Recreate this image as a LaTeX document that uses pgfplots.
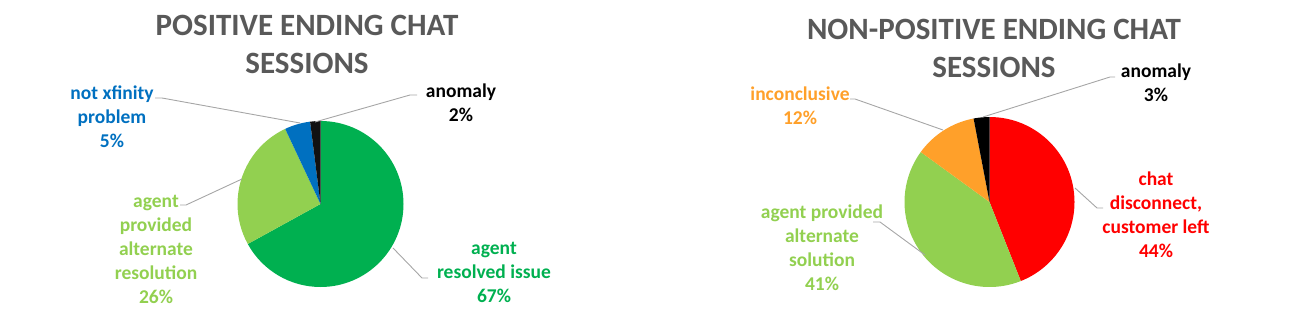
\documentclass[border=0pt]{standalone}
\usepackage{fontspec}
\setmainfont{Carlito}
\usepackage{pgfplots}
\usepackage{pgfplotstable}
\pgfplotsset{compat=1.18}

\definecolor{ttlgray}{HTML}{595959}
\definecolor{leader}{HTML}{A6A6A6}
\definecolor{posc0}{HTML}{00B050}
\definecolor{posc1}{HTML}{92D050}
\definecolor{posc2}{HTML}{0070C0}
\definecolor{posc3}{HTML}{111111}
\definecolor{negc0}{HTML}{FF0000}
\definecolor{negc1}{HTML}{92D050}
\definecolor{negc2}{HTML}{FFA02A}
\definecolor{negc3}{HTML}{000000}

\newcommand\ttl{\fontsize{31}{38}\selectfont\bfseries}
\newcommand\lab{\fontsize{19.5}{24}\selectfont\bfseries}

% Positive ending chat sessions (percent)
\pgfplotstableread{
name value
resolved 67
alternate 26
notxfinity 5
anomaly 2
}\posdata
% Non-positive ending chat sessions (percent)
\pgfplotstableread{
name value
disconnect 44
alternate 41
inconclusive 12
anomaly 3
}\negdata

% wedge angles (clockwise from 12 o'clock)
\def\cumsum{0}
\pgfplotsforeachungrouped \i in {0,...,3}{%
  \pgfplotstablegetelem{\i}{value}\of\posdata
  \pgfmathsetmacro\sa{90-3.6*\cumsum}%
  \pgfmathsetmacro\cumsum{\cumsum+\pgfplotsretval}%
  \pgfmathsetmacro\ea{90-3.6*\cumsum}%
  \expandafter\xdef\csname posS\i\endcsname{\sa}%
  \expandafter\xdef\csname posE\i\endcsname{\ea}%
}
\def\cumsum{0}
\pgfplotsforeachungrouped \i in {0,...,3}{%
  \pgfplotstablegetelem{\i}{value}\of\negdata
  \pgfmathsetmacro\sa{90-3.6*\cumsum}%
  \pgfmathsetmacro\cumsum{\cumsum+\pgfplotsretval}%
  \pgfmathsetmacro\ea{90-3.6*\cumsum}%
  \expandafter\xdef\csname negS\i\endcsname{\sa}%
  \expandafter\xdef\csname negE\i\endcsname{\ea}%
}

\begin{document}
\begin{tikzpicture}
\begin{axis}[
  width=1301pt, height=321pt, scale only axis,
  xmin=0, xmax=1301, ymin=0, ymax=321, y dir=reverse,
  hide axis, clip=false,
]
\path[draw=none] (axis cs:0,0) rectangle (axis cs:1301,321);

% ---- left pie ----
\pgfplotsinvokeforeach{0,...,3}{
  \fill[posc#1] (axis cs:320.5,204) -- ++(\csname posS#1\endcsname:83pt)
    arc[start angle=\csname posS#1\endcsname, end angle=\csname posE#1\endcsname, radius=83pt] -- cycle;
}
% ---- right pie ----
\pgfplotsinvokeforeach{0,...,3}{
  \fill[negc#1] (axis cs:989.5,202) -- ++(\csname negS#1\endcsname:85pt)
    arc[start angle=\csname negS#1\endcsname, end angle=\csname negE#1\endcsname, radius=85pt] -- cycle;
}

% ---- leader lines ----
\begin{scope}[leader, line width=0.9pt]
\draw (axis cs:155,98) -- (axis cs:162,98) -- (axis cs:300,123);
\draw (axis cs:417,95) -- (axis cs:410,95) -- (axis cs:315,122);
\draw (axis cs:180,205) -- (axis cs:186,205) -- (axis cs:242,179);
\draw (axis cs:393,248) -- (axis cs:422,278) -- (axis cs:428,278);
\draw (axis cs:1115,77) -- (axis cs:1110,77) -- (axis cs:983,117);
\draw (axis cs:850,99) -- (axis cs:855,99) -- (axis cs:943,130);
\draw (axis cs:873,222) -- (axis cs:880,222) -- (axis cs:925,255);
\draw (axis cs:1075,188) -- (axis cs:1097,208) -- (axis cs:1103,208);
\end{scope}

% ---- titles ----
\node[font=\ttl, text=ttlgray, align=center] at (axis cs:307,44) {POSITIVE ENDING CHAT\\SESSIONS};
\node[font=\ttl, text=ttlgray, align=center] at (axis cs:994,48.5) {NON-POSITIVE ENDING CHAT\\SESSIONS};

% ---- labels ----
\node[font=\lab, text=posc2, align=center] at (axis cs:112,117) {not xfinity\\problem\\5\%};
\node[font=\lab, text=black, align=center] at (axis cs:461,102.5) {anomaly\\2\%};
\node[font=\lab, text=posc1, align=center] at (axis cs:156,249.5) {agent\\provided\\alternate\\resolution\\26\%};
\node[font=\lab, text=posc0, align=center] at (axis cs:494,272) {agent\\resolved issue\\67\%};

\node[font=\lab, text=black, align=center] at (axis cs:1156,82.5) {anomaly\\3\%};
\node[font=\lab, text=negc2, align=center] at (axis cs:800,105.5) {inconclusive\\12\%};
\node[font=\lab, text=negc1, align=center] at (axis cs:822,247.5) {agent provided\\alternate\\solution\\41\%};
\node[font=\lab, text=negc0, align=center] at (axis cs:1156,214.5) {chat\\disconnect,\\customer left\\44\%};
\end{axis}
\end{tikzpicture}
\end{document}
